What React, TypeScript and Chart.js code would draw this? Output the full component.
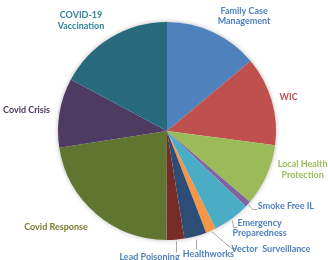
import React, { useEffect, useRef } from "react";
import { Chart, registerables } from "chart.js";

Chart.register(...registerables);

// ---- data ----
const categories = [
  "Family Case Management",
  "WIC",
  "Local Health Protection",
  "Smoke Free IL",
  "Emergency Preparedness",
  "Vector Surveillance",
  "Healthworks",
  "Lead Poisoning",
  "Covid Response",
  "Covid Crisis",
  "COVID-19 Vaccination",
];
const values = [13.9, 13.2, 9.2, 0.9, 5.5, 1.5, 3.3, 2.6, 22.5, 10.3, 17.2];
const labelLines = [
  ["Family Case", "Management"],
  ["WIC"],
  ["Local Health", "Protection"],
  ["Smoke Free IL"],
  ["Emergency", "Preparedness"],
  ["Vector  Surveillance"],
  ["Healthworks"],
  ["Lead Poisoning"],
  ["Covid Response"],
  ["Covid Crisis"],
  ["COVID-19", "Vaccination"],
];

// ---- styles ----
const sliceColors = [
  "#4F81BD",
  "#C0504D",
  "#9BBB59",
  "#8064A2",
  "#4BACC6",
  "#F79646",
  "#2C4D75",
  "#772C2A",
  "#5F7530",
  "#4D3B62",
  "#276A7C",
];
const labelColors = [
  "#4F81BD",
  "#C0504D",
  "#9BBB59",
  "#4F81BD",
  "#4F81BD",
  "#4F81BD",
  "#4F81BD",
  "#4F81BD",
  "#7A7A2E",
  "#4D3B62",
  "#31859C",
];
// label offset from the slice's outer mid point: [dx, dy, align]
const labelOffsets: [number, number, string][] = [
  [31, -16, "center"],
  [17, -3, "center"],
  [36, -6, "center"],
  [10, 2, "left"],
  [28, 9.5, "center"],
  [60, 18.5, "center"],
  [13, 18, "center"],
  [-26, 17, "center"],
  [-40, 13, "center"],
  [-33, -3, "center"],
  [-30, -17, "center"],
];
// leader line points relative to the slice's outer mid point
const leaders: ([number, number][] | null)[] = [
  null,
  null,
  null,
  [[0, 0], [4, 5], [9, 5]],
  [[0, 1], [1, 8], [5, 8]],
  [[0, 0], [20, 17], [25, 17]],
  [[1, 3], [1, 13]],
  [[0, 1], [0, 12]],
  null,
  null,
  null,
];

const FONT = "bold 9px Lato, 'Open Sans', sans-serif";
const LINE_H = 10.5;

const labelPlugin = {
  id: "sliceLabels",
  beforeDatasetsDraw(chart: any) {
    const meta = chart.getDatasetMeta(0);
    if (!meta.data.length) return;
    const a = meta.data[0].getProps(["x", "y", "outerRadius"], true);
    const ctx = chart.ctx;
    ctx.save();
    ctx.shadowColor = "rgba(0,0,0,0.35)";
    ctx.shadowBlur = 5;
    ctx.fillStyle = "#ffffff";
    ctx.beginPath();
    ctx.arc(a.x, a.y, a.outerRadius - 0.5, 0, Math.PI * 2);
    ctx.fill();
    ctx.restore();
  },
  afterDatasetsDraw(chart: any) {
    const ctx = chart.ctx;
    const meta = chart.getDatasetMeta(0);
    ctx.save();
    meta.data.forEach((el: any, i: number) => {
      const p = el.getProps(["x", "y", "startAngle", "endAngle", "outerRadius"], true);
      const mid = (p.startAngle + p.endAngle) / 2;
      const ex = p.x + Math.cos(mid) * p.outerRadius;
      const ey = p.y + Math.sin(mid) * p.outerRadius;
      const ld = leaders[i];
      if (ld) {
        ctx.strokeStyle = "#A6A6A6";
        ctx.lineWidth = 1;
        ctx.beginPath();
        ld.forEach(([dx, dy], k) => {
          const px = Math.round(ex + dx) + 0.5;
          const py = Math.round(ey + dy) + 0.5;
          if (k === 0) ctx.moveTo(px, py);
          else ctx.lineTo(px, py);
        });
        ctx.stroke();
      }
      const [dx, dy, align] = labelOffsets[i];
      const lines = labelLines[i];
      ctx.font = FONT;
      ctx.fillStyle = labelColors[i];
      ctx.textAlign = align as CanvasTextAlign;
      ctx.textBaseline = "middle";
      const cx = ex + dx;
      const cy = ey + dy;
      const top = cy - ((lines.length - 1) * LINE_H) / 2;
      lines.forEach((t, k) => ctx.fillText(t, cx, top + k * LINE_H));
    });
    ctx.restore();
  },
};

export default function App() {
  const ref = useRef<HTMLCanvasElement | null>(null);
  useEffect(() => {
    document.body.style.margin = "0";
    if (!ref.current) return;
    const chart = new Chart(ref.current, {
      type: "pie",
      data: {
        labels: categories,
        datasets: [
          {
            data: values,
            backgroundColor: sliceColors,
            borderWidth: 0,
          },
        ],
      },
      options: {
        responsive: false,
        animation: false,
        layout: { padding: { top: 22, bottom: 20, left: 58, right: 52 } },
        plugins: {
          legend: { display: false },
          tooltip: { enabled: false },
        },
      },
      plugins: [labelPlugin],
    });
    return () => chart.destroy();
  }, []);
  return (
    <div style={{ position: "fixed", left: 0, top: 0, width: 328, height: 260, background: "#fff" }}>
      <canvas ref={ref} width={328} height={260} style={{ display: "block" }} />
    </div>
  );
}
